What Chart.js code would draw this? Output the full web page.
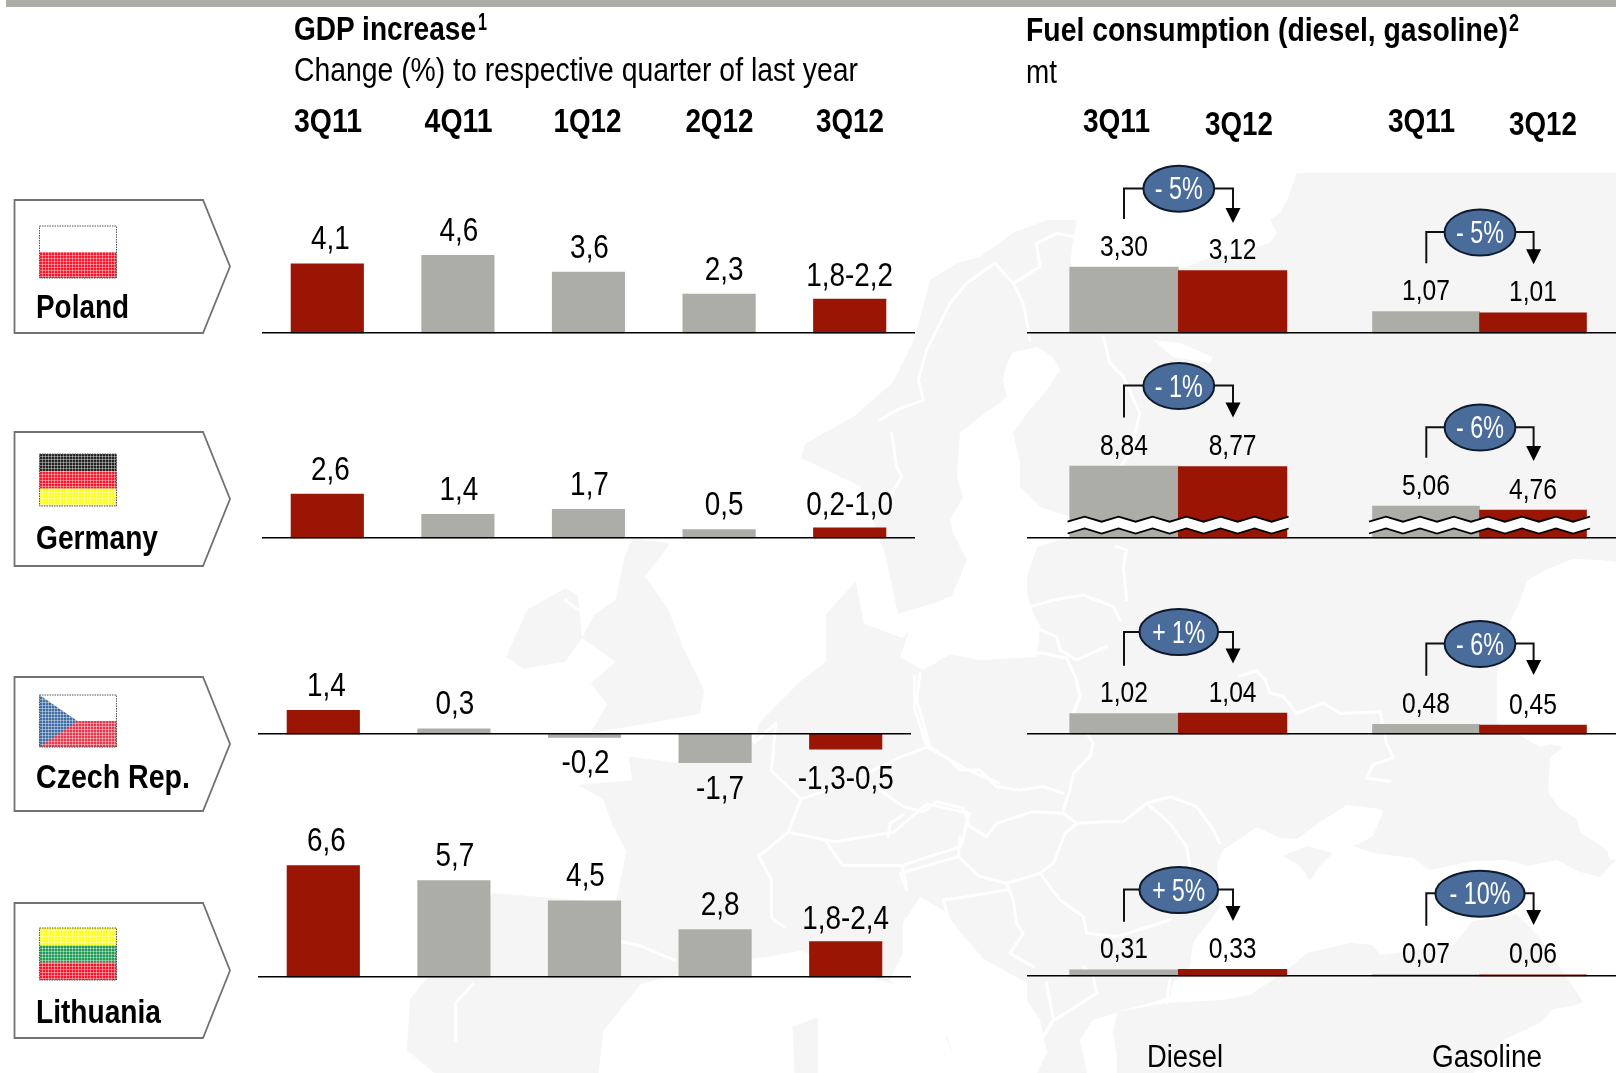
<!DOCTYPE html>
<html><head><meta charset="utf-8">
<script src="https://cdn.jsdelivr.net/npm/chart.js@4"></script>
<style>
html,body{margin:0;padding:0;background:#fff;width:1616px;height:1073px;overflow:hidden}
#stage{position:relative;width:1616px;height:1073px;overflow:hidden}
svg,canvas{position:absolute}
svg text{font-family:"Liberation Sans",Arial,sans-serif;fill:#000}
</style></head><body><div id="stage">
<svg id="map" width="1616" height="1073" style="left:0;top:0"></svg>
<svg id="over" width="1616" height="1073" style="left:0;top:0;z-index:5"></svg>
</div>
<script>
// ---------- data ----------
const quarters = ['3Q11','4Q11','1Q12','2Q12','3Q12'];
const fuelQuarters = ['3Q11','3Q12'];
const countries = ['Poland','Germany','Czech Rep.','Lithuania'];

const gdpPoland = [4.1,4.6,3.6,2.3,2.0];
const gdpGermany = [2.6,1.4,1.7,0.5,0.6];
const gdpCzech = [1.4,0.3,-0.2,-1.7,-0.9];
const gdpLithuania = [6.6,5.7,4.5,2.8,2.1];
const gdpPolandText = ['4,1','4,6','3,6','2,3','1,8-2,2'];
const gdpGermanyText = ['2,6','1,4','1,7','0,5','0,2-1,0'];
const gdpCzechText = ['1,4','0,3','-0,2','-1,7','-1,3-0,5'];
const gdpLithuaniaText = ['6,6','5,7','4,5','2,8','1,8-2,4'];

const dieselPoland = [3.30,3.12];
const dieselGermany = [8.84,8.77];
const dieselCzech = [1.02,1.04];
const dieselLithuania = [0.31,0.33];
const gasolinePoland = [1.07,1.01];
const gasolineGermany = [5.06,4.76];
const gasolineCzech = [0.48,0.45];
const gasolineLithuania = [0.07,0.06];
const dieselChange = ['- 5%','- 1%','+ 1%','+ 5%'];
const gasolineChange = ['- 5%','- 6%','- 6%','- 10%'];

// ---------- styles / layout ----------
const GREY='#adada8', RED='#9b1504', FONT='"Liberation Sans",Arial,sans-serif';
const stage=document.getElementById('stage');

const valueLabels={id:'valueLabels',afterDatasetsDraw(chart,_,o){
  const ctx=chart.ctx, meta=chart.getDatasetMeta(0);
  ctx.save();ctx.fillStyle='#000';ctx.textAlign='center';ctx.textBaseline='alphabetic';
  ctx.font=o.size+'px '+FONT;
  meta.data.forEach((bar,i)=>{
    const t=o.texts[i], isRange=t.length>4, neg=t[0]==='-';
    const y=neg?bar.y+(isRange?40:36):bar.y-(o.gap!=null?o.gap:(isRange?13:14.5));
    ctx.save();ctx.translate(bar.x+(o.nudge?o.nudge[i]:0),y);ctx.scale(o.sx||1,1);
    ctx.fillText(t,0,0);ctx.restore();
  });
  ctx.restore();
}};

function addCanvas(x,top,w,h){
  const c=document.createElement('canvas');c.width=w;c.height=h;
  c.style.left=x+'px';c.style.top=top+'px';c.style.zIndex=2;stage.appendChild(c);return c;
}
function baseOptions(xScale,floor,base,top,bottom,ppu,labels){
  return {responsive:false,animation:false,devicePixelRatio:1,
    layout:{padding:0},
    plugins:{legend:{display:false},tooltip:{enabled:false},valueLabels:labels},
    scales:{
      x:Object.assign({display:true,position:{y:floor},grid:{display:false},ticks:{display:false},
        border:{display:true,color:'#000',width:1.6,z:1}},xScale),
      y:{display:false,min:floor-(bottom-base)/ppu,max:floor+(base-top)/ppu}
    }};
}
function gdpChart(x,base,top,bottom,values,texts){
  const c=addCanvas(x,top,653,bottom-top);
  new Chart(c,{type:'bar',plugins:[valueLabels],
    data:{labels:quarters,datasets:[{data:values,barThickness:72.5,base:0,
      backgroundColor:values.map((_,i)=>(i===0||i===4)?RED:GREY)}]},
    options:baseOptions({type:'category'},0,base,top,bottom,16.9,
      {texts,size:34,sx:0.82,nudge:[3,1,1,5,0]})});
}
function fuelChart(x,w,base,top,bottom,ppu,floor,values,xMin,xMax,thick){
  const c=addCanvas(x,top,w,bottom-top);
  new Chart(c,{type:'bar',plugins:[valueLabels],
    data:{labels:fuelQuarters,datasets:[{data:values.map((v,i)=>({x:i,y:v})),barThickness:thick,base:floor,
      backgroundColor:[GREY,RED]}]},
    options:baseOptions({type:'linear',offset:false,min:xMin,max:xMax},floor,base,top,bottom,ppu,
      {texts:values.map(v=>v.toFixed(2).replace('.',',')),size:30,sx:0.82,gap:11.5})});
}
// GDP panels
gdpChart(262,333,190,345,gdpPoland,gdpPolandText);
gdpChart(262,538,440,552,gdpGermany,gdpGermanyText);
gdpChart(258,734,640,815,gdpCzech,gdpCzechText);
gdpChart(258,977,820,990,gdpLithuania,gdpLithuaniaText);
// fuel panels: diesel spans 1027-1300, gasoline 1300-1616
const dRange=[-(1124-1027)/108.6,(1300-1124)/108.6], gRange=[-(1426-1300)/107,(1616-1426)/107];
const fuelRows=[
 [333,225,345,20,0,dieselPoland,20,0,gasolinePoland],
 [538,420,552,8.14,0,dieselGermany,13.33,2.66,gasolineGermany],
 [734,670,745,20,0,dieselCzech,20,0,gasolineCzech],
 [976,925,990,20,0,dieselLithuania,20,0,gasolineLithuania]];
fuelRows.forEach(r=>{
  fuelChart(1027,273,r[0],r[1],r[2],r[3],r[4],r[5],dRange[0],dRange[1],108.6);
  fuelChart(1300,316,r[0],r[1],r[2],r[6],r[7],r[8],gRange[0],gRange[1],107);
});

// ---------- decoration (SVG) ----------
const NS='http://www.w3.org/2000/svg';
function el(parent,name,attrs,txt){const e=document.createElementNS(NS,name);for(const k in attrs)e.setAttribute(k,attrs[k]);if(txt!=null)e.textContent=txt;parent.appendChild(e);return e;}
const over=document.getElementById('over'), map=document.getElementById('map');

// Map backdrop: land silhouettes, seas carved in white, then borders
const LAND='#f5f5f5';
const gW=el(map,'g',{transform:'translate(380,330) scale(0.4209,0.4739)'});
[
 '300,690 350,590 440,545 470,560 480,650 440,700 340,715',
 '600,440 690,450 630,520 685,590 720,670 770,760 760,810 640,830 500,850 540,790 500,745 560,700 480,650 510,600 560,570 580,480',
 '64,1520 71,1413 170,1300 268,1188 560,1210 585,1100 550,1040 530,990 470,960 600,950 590,900 720,915 890,870 900,830 1000,740 1060,700 1060,600 1130,530 1150,620 1240,650 1300,600 1400,690 1568,700 1568,1568 1500,1568 1470,1470 1380,1568 1300,1400 1180,1370 1000,1310 800,1340 620,1380 530,1480 520,1568 130,1568',
 '980,1470 1040,1450 1040,1568 985,1568'
].forEach(p=>el(gW,'polygon',{points:p,fill:LAND}));
// Scandinavia, Russia and the east, in page units
el(map,'polygon',{fill:LAND,points:'801,458 805,444 856,415 893,382 914,340 930,280 957,263 980,257 1013,233 1047,220 1077,220 1072,247 1070,270 1177,270 1213,257 1247,250 1270,243 1277,233 1270,220 1280,213 1287,200 1297,173 1616,173 1616,1073 1000,1073 1000,660 1040,640 944,600 898,614 885,553 860,486'});
const seas=[
 // Gulf of Bothnia and Baltic
 '1007,363 1013,352 1037,347 1053,357 1060,370 1047,390 1027,413 1013,433 1020,463 1020,487 1040,507 1070,517 1070,537 1037,547 1027,577 1027,600 1040,627 1037,657 980,660 930,650 927,617 950,600 967,560 953,533 950,520 963,497 957,477 960,433 980,417 1007,397 1003,380',
 // White Sea pocket and lake
 '1153,340 1180,343 1213,357 1210,363 1173,357',
 // Eastern plain gap
 '1497,676 1507,628 1520,601 1527,581 1543,571 1573,559 1600,560 1616,562 1616,860 1610,860 1607,850 1580,832 1577,819 1560,809 1548,792 1550,758 1563,747 1550,744 1540,747 1497,722',
 // Black Sea, Azov and beyond
 '1223,850 1257,827 1280,838 1297,839 1320,822 1347,805 1380,809 1383,812 1373,836 1360,843 1353,846 1373,853 1413,858 1430,870 1473,861 1507,860 1527,866 1557,860 1580,872 1600,877 1616,860 1616,1073 1117,1073 1117,1012 1170,997 1173,983 1190,967 1193,943 1220,907 1217,863',
 // Adriatic and Ionian
 '920,897 943,910 980,957 1027,983 1027,1000 1040,1020 1047,1053 1037,1073 960,1073 947,1037 910,1003 890,980 903,953 903,923',
 // Aegean
 '1093,1020 1117,1013 1113,1033 1120,1073 1087,1073 1080,1040',
 // Coast notch near the Baltic states
 '913,620 947,597 1027,590 1030,607 1013,653 987,660 953,653 923,670 900,657'
];
seas.forEach(p=>el(map,'polygon',{points:p,fill:'#fff'}));
// Turkey and Crimea sit over the sea layer
el(map,'polygon',{fill:LAND,points:'1117,1012 1167,1003 1223,1000 1250,995 1287,970 1307,953 1350,943 1373,945 1380,955 1413,951 1453,945 1473,921 1517,914 1540,938 1570,982 1583,1002 1573,1006 1553,1009 1540,1023 1503,1040 1473,1073 1117,1073'});
el(map,'polygon',{fill:LAND,points:'1283,856 1307,846 1333,853 1320,866 1310,880 1300,866'});

const bd={fill:'none',stroke:'#fff','stroke-width':3,'stroke-linejoin':'round','stroke-linecap':'round','vector-effect':'non-scaling-stroke'};
[ '890,870 940,830 930,930 1000,990 970,1060 900,1110 930,1160 930,1240 960,1260',
  '1270,730 1270,800 1300,880','1000,990 1100,960 1240,900 1300,880 1400,930 1480,960','970,1060 1080,1080 1220,1060 1300,1000 1400,1020',
  '1400,1020 1380,1090 1240,1130 1100,1130 1060,1080','1240,1130 1250,1170','220,1380 180,1420 180,1500',
  '570,1290 620,1300 700,1330','440,570 470,590 520,590'
].forEach(p=>el(gW,'polyline',Object.assign({points:p},bd)));
const gA=el(map,'g',{transform:'translate(880,200) scale(0.3333)'});
[ '0,660 50,630 130,600 115,540 140,450 210,310 260,250 330,200 345,190 400,250 430,310 445,390 450,420',
  '35,700 50,800 65,830 30,890 0,920','670,410 690,490 730,530 780,640 750,760 720,800','470,130 480,200 400,250','470,130 530,100 580,110',
  '710,1040 740,1050 730,1100 740,1200'
].forEach(p=>el(gA,'polyline',Object.assign({points:p},bd)));
const gC=el(map,'g',{transform:'translate(880,590) scale(0.3333)'});
[ '450,50 520,30 610,15 700,50 720,90','400,190 490,190 560,205 590,270 600,320 580,370 640,460 630,500 580,550 570,600 550,660',
  '120,250 110,330 130,400 150,470','450,50 460,110 530,140 540,180 590,210 680,170',
  '0,600 70,650 130,665 170,635 250,655 270,710 320,740 350,700 460,665 550,670 590,700','150,470 210,510 240,540 300,540 350,590 420,600 490,590 550,610',
  '25,740 30,700 70,675','590,700 680,695 730,695 800,640 870,620 950,650 1000,720 1020,760',
  '590,700 555,730 520,820 480,850 540,930 610,980 620,1030 710,1040 870,990','800,640 870,700 920,770 930,830',
  '240,740 235,800 130,830 60,850 80,900','235,800 300,860 380,880 480,850','380,880 400,930 410,1000 430,1030 390,1090 460,1130',
  '190,930 210,1000 300,1100','190,930 260,920 380,900','500,1180 520,1290 540,1280 650,1210 640,1160 610,1130','520,1290 490,1340','870,1170 860,1240'
].forEach(p=>el(gC,'polyline',Object.assign({points:p},bd)));
const gB=el(map,'g',{transform:'translate(1240,540) scale(0.3333,0.34)'});
[ '0,400 50,385 75,410 90,450 130,460 170,510 250,480 300,510 420,505 440,600 460,640 400,660 380,700 450,710' ]
 .forEach(p=>el(gB,'polyline',Object.assign({points:p},bd)));

// Top band
el(over,'rect',{x:6,y:0,width:1610,height:7,fill:GREY});

function T(txt,x,y,size,opt){opt=opt||{};
  const a={x,y,'font-size':size};
  if(opt.bold)a['font-weight']='bold';
  if(opt.w){a.textLength=opt.w;a.lengthAdjust='spacingAndGlyphs';}
  if(opt.anchor)a['text-anchor']=opt.anchor;
  if(opt.fill)a.style='fill:'+opt.fill;
  return el(over,'text',a,txt);
}
// Headers
T('GDP increase',294,40,34,{bold:1,w:182});
T('1',478,30,24,{bold:1,w:9});
T('Change (%) to respective quarter of last year',294,81,34,{w:564});
[294,424.6,553.5,685.4,816].forEach((x,i)=>T(quarters[i],x,132,34,{bold:1,w:68}));
T('Fuel consumption (diesel, gasoline)',1026,41,34,{bold:1,w:482});
T('2',1509,31,24,{bold:1,w:10});
T('mt',1026,83,34,{w:31});
T(fuelQuarters[0],1083,132,33,{bold:1,w:67});T(fuelQuarters[1],1205,135,33,{bold:1,w:68});
T(fuelQuarters[0],1388,132,33,{bold:1,w:67});T(fuelQuarters[1],1509,135,33,{bold:1,w:68});
T('Diesel',1147,1067,31,{w:76});
T('Gasoline',1432,1067,31,{w:110});

// Country tags and flags
const defs=el(over,'defs',{});
const pat=el(defs,'pattern',{id:'ht',width:3,height:3,patternUnits:'userSpaceOnUse'});
el(pat,'rect',{x:0,y:0,width:3,height:1,fill:'#fff','fill-opacity':.4});
el(pat,'rect',{x:0,y:0,width:1,height:3,fill:'#fff','fill-opacity':.4});
const tags=[[200,333,318,226,['#fff','#f8142a']],[432,566,549,454,['#222','#f8142a','#ffff1e']],[677,811,788,695,null],[903,1038,1023,928,['#ffff1e','#1f9a52','#f8142a']]];
tags.forEach((t,i)=>{
  const [y0,y1,by,fy,cols]=t, ym=(y0+y1)/2;
  el(over,'polygon',{points:`14.5,${y0} 203,${y0} 230,${ym} 203,${y1} 14.5,${y1}`,fill:'#fff',stroke:'#6f7373','stroke-width':1.8});
  T(countries[i],36,by,34,{bold:1,w:[93,122,154,125][i]});
  const fx=39.5,fw=77,fh=52;
  if(cols){cols.forEach((c,k)=>el(over,'rect',{x:fx,y:fy+k*fh/cols.length,width:fw,height:fh/cols.length,fill:c}));}
  else{
    el(over,'rect',{x:fx,y:fy,width:fw,height:fh/2,fill:'#fff'});
    el(over,'rect',{x:fx,y:fy+fh/2,width:fw,height:fh/2,fill:'#e4394c'});
    el(over,'polygon',{points:`${fx},${fy} ${fx+38},${fy+fh/2} ${fx},${fy+fh}`,fill:'#3f6ca4'});
  }
  el(over,'rect',{x:fx,y:fy,width:fw,height:fh,fill:'url(#ht)'});
  el(over,'rect',{x:fx,y:fy,width:fw,height:fh,fill:'none',stroke:'#555','stroke-width':1,'stroke-dasharray':'1.5 1'});
});

// Change bubbles: [cx, cy, rx, lineY, leftX, rightX, leftBottom, arrowTip, label, textWidth]
const bubbles=[
 [1178.8,188.7,35.4,188.5,1124,1233,219,223,dieselChange[0],48],
 [1178.8,386,35.4,385.5,1124,1233,417.5,417.5,dieselChange[1],48],
 [1178.8,632,39.3,632,1124,1233,665.7,663.5,dieselChange[2],53],
 [1178.8,890,39.3,889.5,1124,1233,921.7,921,dieselChange[3],53],
 [1480,232.5,35.4,232,1426.3,1533.6,263.3,264.3,gasolineChange[0],48],
 [1480,427.5,35.4,427.3,1426.3,1533.6,457.7,461,gasolineChange[1],48],
 [1480,644,35.4,643.5,1426.3,1533.6,675.7,675,gasolineChange[2],48],
 [1480,893.7,44.6,893.3,1426.3,1533.6,925.7,925,gasolineChange[3],61]];
bubbles.forEach(b=>{
  const [cx,cy,rx,ly,lx,rxx,lb,tip,lab,tw]=b;
  el(over,'polyline',{points:`${lx},${lb} ${lx},${ly} ${cx},${ly} ${rxx},${ly} ${rxx},${tip-12}`,fill:'none',stroke:'#111','stroke-width':2});
  el(over,'polygon',{points:`${rxx-7.5},${tip-15} ${rxx+7.5},${tip-15} ${rxx},${tip}`,fill:'#000'});
  el(over,'ellipse',{cx,cy,rx,ry:23,fill:'#4a6c9b',stroke:'#0e1a2b','stroke-width':2});
  T(lab,cx,cy+10.6,31,{anchor:'middle',w:tw,fill:'#fff'});
});

// Axis-break marks
function zig(x0,x1,y){let p=[],up=false;for(let x=x0;x<=x1+0.1;x+=17){p.push([x,y+(up?-2.5:2.5)]);up=!up;}return p;}
[[1067.6,1294],[1369,1595.7]].forEach(([a,b])=>{
  const t=zig(a,b,519.2), l=zig(a,b,531);
  const poly=t.concat(l.slice().reverse()).map(q=>q.join(',')).join(' ');
  el(over,'polygon',{points:poly,fill:'#fff'});
  [t,l].forEach(s=>el(over,'polyline',{points:s.map(q=>q.join(',')).join(' '),fill:'none',stroke:'#000','stroke-width':1.8}));
});
</script></body></html>
